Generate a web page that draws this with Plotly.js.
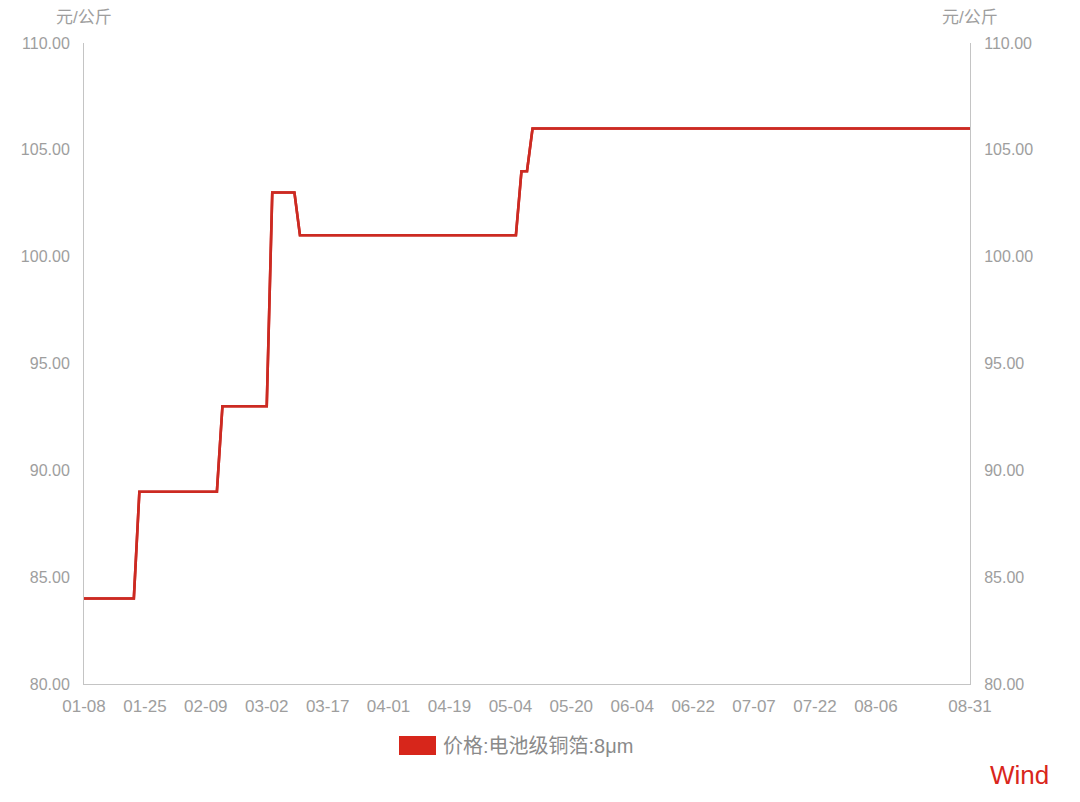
<!DOCTYPE html>
<html>
<head>
<meta charset="utf-8">
<script src="https://cdn.plot.ly/plotly-3.0.1.min.js"></script>
<style>
  html, body { margin: 0; padding: 0; background: #ffffff; }
  #plot { width: 1080px; height: 802px; }
</style>
</head>
<body>
<div id="plot"></div>
<script>
// trading days (2021), one price per day
const dates = [
    "01-08", "01-11", "01-12", "01-13", "01-14", "01-15", "01-18", "01-19", "01-20", "01-21",
    "01-22", "01-25", "01-26", "01-27", "01-28", "01-29", "02-01", "02-02", "02-03", "02-04",
    "02-05", "02-08", "02-09", "02-10", "02-18", "02-19", "02-20", "02-22", "02-23", "02-24",
    "02-25", "02-26", "03-01", "03-02", "03-03", "03-04", "03-05", "03-08", "03-09", "03-10",
    "03-11", "03-12", "03-15", "03-16", "03-17", "03-18", "03-19", "03-22", "03-23", "03-24",
    "03-25", "03-26", "03-29", "03-30", "03-31", "04-01", "04-02", "04-06", "04-07", "04-08",
    "04-09", "04-12", "04-13", "04-14", "04-15", "04-16", "04-19", "04-20", "04-21", "04-22",
    "04-23", "04-25", "04-26", "04-27", "04-28", "04-29", "04-30", "05-04", "05-06", "05-07",
    "05-10", "05-11", "05-12", "05-13", "05-14", "05-17", "05-18", "05-19", "05-20", "05-21",
    "05-24", "05-25", "05-26", "05-27", "05-28", "05-31", "06-01", "06-02", "06-03", "06-04",
    "06-07", "06-08", "06-09", "06-10", "06-11", "06-15", "06-16", "06-17", "06-18", "06-21",
    "06-22", "06-23", "06-24", "06-25", "06-28", "06-29", "06-30", "07-01", "07-02", "07-05",
    "07-06", "07-07", "07-08", "07-09", "07-12", "07-13", "07-14", "07-15", "07-16", "07-19",
    "07-20", "07-21", "07-22", "07-23", "07-26", "07-27", "07-28", "07-29", "07-30", "08-02",
    "08-03", "08-04", "08-05", "08-06", "08-09", "08-10", "08-11", "08-12", "08-13", "08-16",
    "08-17", "08-18", "08-19", "08-20", "08-23", "08-24", "08-25", "08-26", "08-27", "08-30",
    "08-31"
];

// 价格:电池级铜箔:8μm (元/公斤)
const prices = [
    84, 84, 84, 84, 84, 84, 84, 84, 84, 84,
    89, 89, 89, 89, 89, 89, 89, 89, 89, 89,
    89, 89, 89, 89, 89, 93, 93, 93, 93, 93,
    93, 93, 93, 93, 103, 103, 103, 103, 103, 101,
    101, 101, 101, 101, 101, 101, 101, 101, 101, 101,
    101, 101, 101, 101, 101, 101, 101, 101, 101, 101,
    101, 101, 101, 101, 101, 101, 101, 101, 101, 101,
    101, 101, 101, 101, 101, 101, 101, 101, 101, 104,
    104, 106, 106, 106, 106, 106, 106, 106, 106, 106,
    106, 106, 106, 106, 106, 106, 106, 106, 106, 106,
    106, 106, 106, 106, 106, 106, 106, 106, 106, 106,
    106, 106, 106, 106, 106, 106, 106, 106, 106, 106,
    106, 106, 106, 106, 106, 106, 106, 106, 106, 106,
    106, 106, 106, 106, 106, 106, 106, 106, 106, 106,
    106, 106, 106, 106, 106, 106, 106, 106, 106, 106,
    106, 106, 106, 106, 106, 106, 106, 106, 106, 106,
    106
];

const xTicks = ["01-08", "01-25", "02-09", "03-02", "03-17", "04-01", "04-19", "05-04",
                "05-20", "06-04", "06-22", "07-07", "07-22", "08-06", "08-31"];
const yTicks = [80, 85, 90, 95, 100, 105, 110];

const seriesName = "价格:电池级铜箔:8μm";
const unit = "元/公斤";

const red = "#cc2a22";
const grey = "#9e9e9e";
const font = "Liberation Sans, Noto Sans CJK SC, sans-serif";

const data = [
    {
        x: dates,
        y: prices,
        type: "scatter",
        mode: "lines",
        line: { color: red, width: 2.6 },
        name: seriesName,
        showlegend: false,
        hoverinfo: "x+y"
    },
    {
        x: dates,
        y: prices,
        yaxis: "y2",
        type: "scatter",
        mode: "lines",
        line: { color: red, width: 2.6 },
        showlegend: false,
        hoverinfo: "skip"
    }
];

const yAxisBase = {
    range: [80, 110],
    tickvals: yTicks,
    tickformat: ".2f",
    showgrid: false,
    zeroline: false,
    showline: true,
    linecolor: "#c4c4c4",
    linewidth: 1,
    ticks: "",
    ticklabelstandoff: 10,
    tickfont: { family: font, size: 16, color: grey }
};

const layout = {
    width: 1080,
    height: 802,
    paper_bgcolor: "#ffffff",
    plot_bgcolor: "#ffffff",
    margin: { l: 84, r: 110, t: 43, b: 118 },
    showlegend: false,
    xaxis: {
        type: "category",
        range: [0, dates.length - 1],
        tickvals: xTicks,
        ticktext: xTicks,
        tickangle: 0,
        showgrid: false,
        zeroline: false,
        showline: true,
        linecolor: "#c4c4c4",
        linewidth: 1,
        ticks: "",
        ticklabelstandoff: 7,
        tickfont: { family: font, size: 17, color: grey }
    },
    yaxis: Object.assign({}, yAxisBase, { side: "left" }),
    yaxis2: Object.assign({}, yAxisBase, { side: "right", overlaying: "y" }),
    shapes: [
        {
            type: "rect", xref: "paper", yref: "paper",
            x0: (399 - 84) / 886, x1: (436 - 84) / 886,
            y0: -(736 - 684) / 641, y1: -(755 - 684) / 641,
            fillcolor: "#d7261b", line: { width: 0 }
        }
    ],
    annotations: [
        {
            text: unit, xref: "paper", yref: "paper",
            x: 0, y: 1 + (43 - 18) / 641, xanchor: "center", yanchor: "middle",
            showarrow: false, font: { family: font, size: 17, color: grey }
        },
        {
            text: unit, xref: "paper", yref: "paper",
            x: 1, y: 1 + (43 - 18) / 641, xanchor: "center", yanchor: "middle",
            showarrow: false, font: { family: font, size: 17, color: grey }
        },
        {
            text: seriesName, xref: "paper", yref: "paper",
            x: (441 - 84) / 886, y: -(746 - 684) / 641, xanchor: "left", yanchor: "middle",
            showarrow: false, font: { family: font, size: 20, color: "#8a8a8a" }
        },
        {
            text: "Wind", xref: "paper", yref: "paper",
            x: (1051 - 84) / 886, y: -(775 - 684) / 641, xanchor: "right", yanchor: "middle",
            showarrow: false, font: { family: font, size: 26, color: "#d9261c" }
        }
    ]
};

Plotly.newPlot("plot", data, layout, { displayModeBar: false, staticPlot: true });
</script>
</body>
</html>
